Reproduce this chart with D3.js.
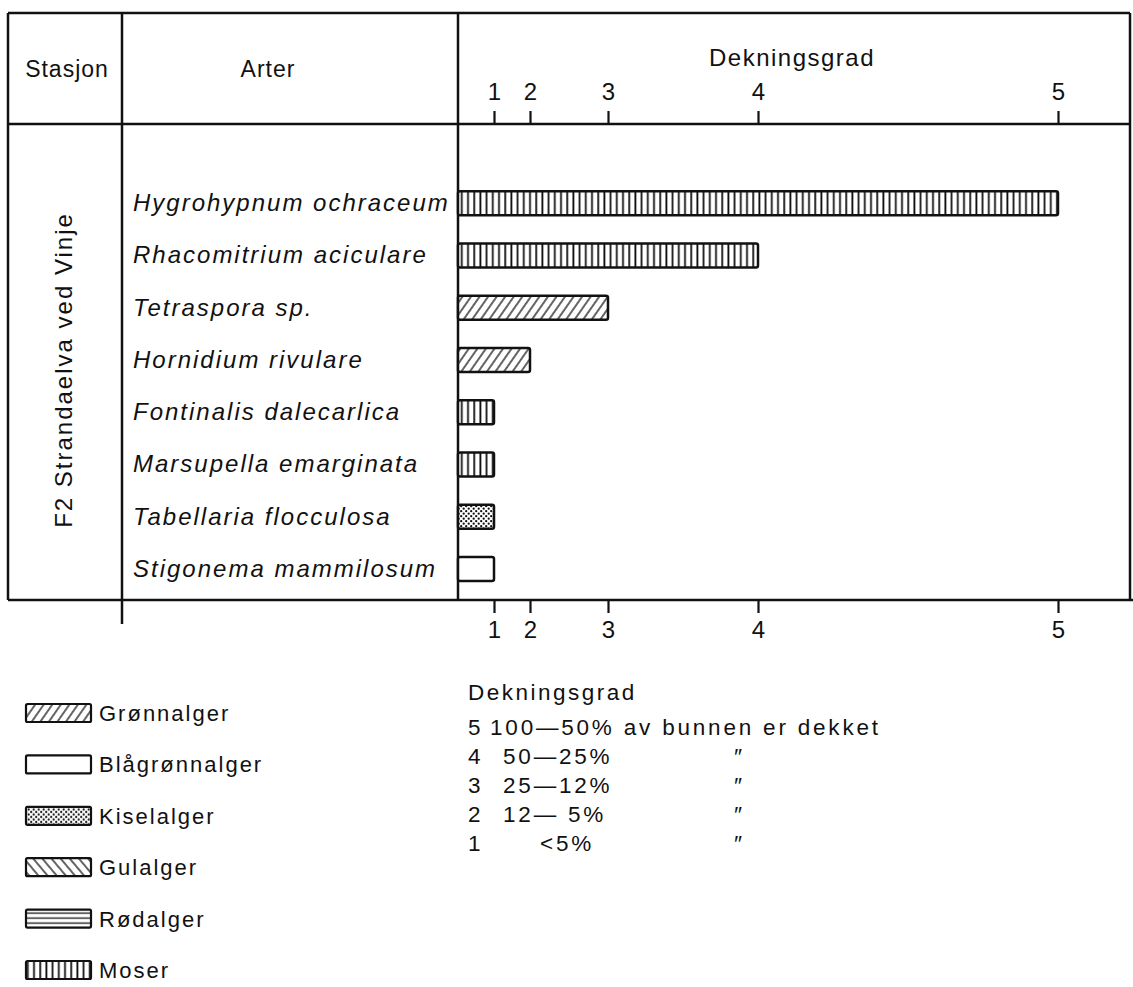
<!DOCTYPE html>
<html>
<head>
<meta charset="utf-8">
<script src="https://cdn.jsdelivr.net/npm/d3@7"></script>
<style>
  body { margin: 0; background: #fff; }
  text { font-family: "Liberation Sans", Arial, sans-serif; fill: #111; }
</style>
</head>
<body>
<div id="viz"></div>
<script>
// data
const species = [
    "Hygrohypnum ochraceum",
    "Rhacomitrium aciculare",
    "Tetraspora sp.",
    "Hornidium rivulare",
    "Fontinalis dalecarlica",
    "Marsupella emarginata",
    "Tabellaria flocculosa",
    "Stigonema mammilosum"
];
const coverClass = [5, 4, 3, 2, 1, 1, 1, 1];
const speciesGroup = ["Moser", "Moser", "Grønnalger", "Grønnalger", "Moser", "Moser", "Kiselalger", "Blågrønnalger"];

const classPercent = [6, 12, 25, 50, 100];
const classLabels = ["1", "2", "3", "4", "5"];

const legendGroups = ["Grønnalger", "Blågrønnalger", "Kiselalger", "Gulalger", "Rødalger", "Moser"];

const coverNum = ["5", "4", "3", "2", "1"];
const coverRange = ["100—50% av bunnen er dekket", "50—25%", "25—12%", "12— 5%", "<5%"];
const coverDitto = ["", "\u2033", "\u2033", "\u2033", "\u2033"];

const station = "F2 Strandaelva ved Vinje";

document.addEventListener("DOMContentLoaded", () => {
    const width = 1133;
    const height = 987;

    const top = 13, headY = 124, bottom = 600;
    const left = 8, col1 = 122, col2 = 458, right = 1130;

    const svg = d3.select("#viz").append("svg")
        .attr("width", width)
        .attr("height", height);

    // hatch patterns
    const defs = svg.append("defs");

    const moser = defs.append("pattern").attr("id", "Moser")
        .attr("patternUnits", "userSpaceOnUse").attr("width", 6.2).attr("height", 10);
    moser.append("rect").attr("width", 6.2).attr("height", 10).attr("fill", "#fff");
    moser.append("line").attr("x1", 3).attr("x2", 3).attr("y1", 0).attr("y2", 10)
        .attr("stroke", "#111").attr("stroke-width", 1.8);

    const gronn = defs.append("pattern").attr("id", "Grønnalger")
        .attr("patternUnits", "userSpaceOnUse").attr("width", 7).attr("height", 7)
        .attr("patternTransform", "rotate(35)");
    gronn.append("rect").attr("width", 7).attr("height", 7).attr("fill", "#fff");
    gronn.append("line").attr("x1", 3).attr("x2", 3).attr("y1", 0).attr("y2", 7)
        .attr("stroke", "#111").attr("stroke-width", 1.3);

    const gul = defs.append("pattern").attr("id", "Gulalger")
        .attr("patternUnits", "userSpaceOnUse").attr("width", 7).attr("height", 7)
        .attr("patternTransform", "rotate(-40)");
    gul.append("rect").attr("width", 7).attr("height", 7).attr("fill", "#fff");
    gul.append("line").attr("x1", 3).attr("x2", 3).attr("y1", 0).attr("y2", 7)
        .attr("stroke", "#111").attr("stroke-width", 1.3);

    const rod = defs.append("pattern").attr("id", "Rødalger")
        .attr("patternUnits", "userSpaceOnUse").attr("width", 10).attr("height", 5)
        .attr("y", 2);
    rod.append("rect").attr("width", 10).attr("height", 5).attr("fill", "#fff");
    rod.append("line").attr("x1", 0).attr("x2", 10).attr("y1", 2.5).attr("y2", 2.5)
        .attr("stroke", "#111").attr("stroke-width", 1.3);

    const kisel = defs.append("pattern").attr("id", "Kiselalger")
        .attr("patternUnits", "userSpaceOnUse").attr("width", 5).attr("height", 5);
    kisel.append("rect").attr("width", 5).attr("height", 5).attr("fill", "#fff");
    kisel.append("circle").attr("cx", 1.2).attr("cy", 1.2).attr("r", 1.15).attr("fill", "#111");
    kisel.append("circle").attr("cx", 3.7).attr("cy", 3.7).attr("r", 1.15).attr("fill", "#111");

    const fill = g => g === "Blågrønnalger" ? "#fff" : `url(#${g})`;

    // scales
    const x = d3.scaleLinear().domain([0, 100]).range([col2, col2 + 600]);
    const y = d3.scalePoint().domain(species).range([177, 595]).padding(0.5);
    const barH = 24;

    // table frame
    const frame = svg.append("g")
        .attr("stroke", "#111").attr("stroke-width", 2.5).attr("fill", "none");
    frame.append("line").attr("x1", left).attr("x2", right).attr("y1", top).attr("y2", top);
    frame.append("line").attr("x1", left).attr("x2", right).attr("y1", headY).attr("y2", headY);
    frame.append("line").attr("x1", left).attr("x2", width).attr("y1", bottom).attr("y2", bottom);
    frame.append("line").attr("x1", left).attr("x2", left).attr("y1", top).attr("y2", bottom);
    frame.append("line").attr("x1", col1).attr("x2", col1).attr("y1", top).attr("y2", bottom + 24);
    frame.append("line").attr("x1", col2).attr("x2", col2).attr("y1", top).attr("y2", bottom);
    frame.append("line").attr("x1", right).attr("x2", right).attr("y1", top).attr("y2", bottom);

    // headers
    svg.append("text").attr("x", (left + col1) / 2 + 2).attr("y", 77)
        .attr("text-anchor", "middle").attr("font-size", 23).attr("letter-spacing", 1)
        .text("Stasjon");
    svg.append("text").attr("x", 268).attr("y", 77)
        .attr("text-anchor", "middle").attr("font-size", 23).attr("letter-spacing", 1)
        .text("Arter");
    svg.append("text").attr("x", 792).attr("y", 66)
        .attr("text-anchor", "middle").attr("font-size", 24).attr("letter-spacing", 1.5)
        .text("Dekningsgrad");

    svg.append("text")
        .attr("transform", `translate(72,370) rotate(-90)`)
        .attr("text-anchor", "middle").attr("font-size", 24).attr("letter-spacing", 2)
        .text(station);

    // axes
    const fmt = (d, i) => classLabels[i];
    const axTop = svg.append("g")
        .attr("transform", `translate(0,${headY})`)
        .call(d3.axisTop(x).tickValues(classPercent).tickFormat(fmt).tickSize(13).tickPadding(11));
    const axBot = svg.append("g")
        .attr("transform", `translate(0,${bottom})`)
        .call(d3.axisBottom(x).tickValues(classPercent).tickFormat(fmt).tickSize(13).tickPadding(8));
    [axTop, axBot].forEach(ax => {
        ax.select(".domain").remove();
        ax.selectAll(".tick line").attr("stroke", "#111").attr("stroke-width", 2.2);
        ax.selectAll(".tick text").attr("font-size", 24).attr("fill", "#111")
            .attr("font-family", "Liberation Sans, Arial, sans-serif");
    });

    // species names
    svg.append("g").selectAll("text")
        .data(species)
        .join("text")
        .attr("x", 133)
        .attr("y", d => y(d) + 8)
        .attr("font-size", 24)
        .attr("font-style", "italic")
        .attr("letter-spacing", 2)
        .text(d => d);

    // bars
    svg.append("g").selectAll("rect")
        .data(species)
        .join("rect")
        .attr("x", x(0))
        .attr("y", d => y(d) - barH / 2)
        .attr("width", (d, i) => x(classPercent[coverClass[i] - 1]) - x(0))
        .attr("height", barH)
        .attr("rx", 2)
        .attr("fill", (d, i) => fill(speciesGroup[i]))
        .attr("stroke", "#111")
        .attr("stroke-width", 2.5);

    // group legend
    const ly = d3.scalePoint().domain(legendGroups).range([713, 970]);
    const lg = svg.append("g").selectAll("g")
        .data(legendGroups)
        .join("g")
        .attr("transform", d => `translate(0,${ly(d)})`);
    lg.append("rect")
        .attr("x", 26).attr("y", -9).attr("width", 65).attr("height", 18).attr("rx", 1.5)
        .attr("fill", d => fill(d))
        .attr("stroke", "#111").attr("stroke-width", 2.2);
    lg.append("text")
        .attr("x", 99).attr("y", 8)
        .attr("font-size", 22).attr("letter-spacing", 2)
        .text(d => d);

    // cover class legend
    svg.append("text").attr("x", 468).attr("y", 700)
        .attr("font-size", 22.5).attr("letter-spacing", 2.5)
        .text("Dekningsgrad");
    const cy = d3.scalePoint().domain(coverNum).range([735, 851]);
    const cg = svg.append("g").selectAll("g")
        .data(coverNum)
        .join("g")
        .attr("transform", d => `translate(0,${cy(d)})`)
        .attr("font-size", 22.5);
    cg.append("text").attr("x", 468).text(d => d);
    cg.append("text")
        .attr("x", (d, i) => i === 0 ? 490 : (i === 4 ? 540 : 503))
        .attr("letter-spacing", 2.8)
        .style("white-space", "pre")
        .text((d, i) => coverRange[i]);
    cg.append("text").attr("x", 733).attr("font-style", "italic")
        .text((d, i) => coverDitto[i]);
});
</script>
</body>
</html>
